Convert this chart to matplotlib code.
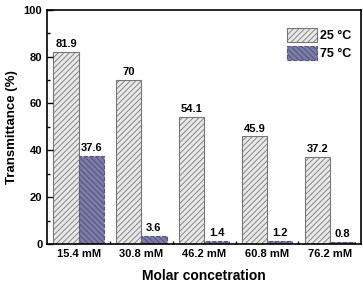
import matplotlib.pyplot as plt
import numpy as np
from matplotlib.ticker import MultipleLocator, FixedLocator

plt.rcParams['font.family'] = ['Liberation Sans', 'DejaVu Sans']
plt.rcParams['font.weight'] = 'bold'
plt.rcParams['hatch.linewidth'] = 0.6

categories = ['15.4 mM', '30.8 mM', '46.2 mM', '60.8 mM', '76.2 mM']
t25 = [81.9, 70, 54.1, 45.9, 37.2]
t75 = [37.6, 3.6, 1.4, 1.2, 0.8]
labels25 = ['81.9', '70', '54.1', '45.9', '37.2']
labels75 = ['37.6', '3.6', '1.4', '1.2', '0.8']

fig = plt.figure(figsize=(3.63, 2.82), dpi=100)
ax = fig.add_axes([0.13, 0.135, 0.865, 0.83])

x = np.arange(1, len(categories) + 1)
w = 0.4

plt.rcParams['hatch.color'] = '#777777'
b1 = ax.bar(x - w / 2, t25, w, facecolor='#e8e8e8', edgecolor='#777777',
            hatch='//////', linewidth=0.8, label='25 °C')
b2 = ax.bar(x + w / 2, t75, w, facecolor='#7c7ca8', edgecolor='#55557e',
            hatch='\\\\\\\\\\\\', linewidth=0.8, linestyle='--', label='75 °C')
for p in b2:
    p._hatch_color = (0.3, 0.3, 0.45, 1.0)

for xi, v, s in zip(x - w / 2, t25, labels25):
    ax.text(xi, v + 1.2, s, ha='center', va='bottom', fontsize=8, fontweight='bold')
for xi, v, s in zip(x + w / 2, t75, labels75):
    ax.text(xi, v + 1.2, s, ha='center', va='bottom', fontsize=8, fontweight='bold')

ax.set_xlim(0.5, 5.5)
ax.set_ylim(0, 100)
ax.set_xticks(x)
ax.set_xticklabels(categories)
ax.xaxis.set_minor_locator(FixedLocator(np.arange(1.5, 5.5, 1)))
ax.yaxis.set_major_locator(MultipleLocator(20))
ax.yaxis.set_minor_locator(MultipleLocator(10))
ax.tick_params(direction='in', which='both', labelsize=8, width=1.0)
ax.tick_params(which='major', length=4)
ax.tick_params(which='minor', length=2)
ax.tick_params(axis='x', which='major', length=0, pad=4)
for s in ax.spines.values():
    s.set_linewidth(1.2)

ax.set_xlabel('Molar concetration', fontsize=10, fontweight='bold', labelpad=7)
ax.set_ylabel('Transmittance (%)', fontsize=9.5, fontweight='bold', labelpad=4)

leg = ax.legend(loc='upper right', frameon=False, fontsize=9, handlelength=2.4,
                handleheight=1.3, handletextpad=0.3, labelspacing=0.3,
                bbox_to_anchor=(1.005, 0.97))
for t in leg.get_texts():
    t.set_fontweight('bold')

fig.savefig('out.png', dpi=100)
